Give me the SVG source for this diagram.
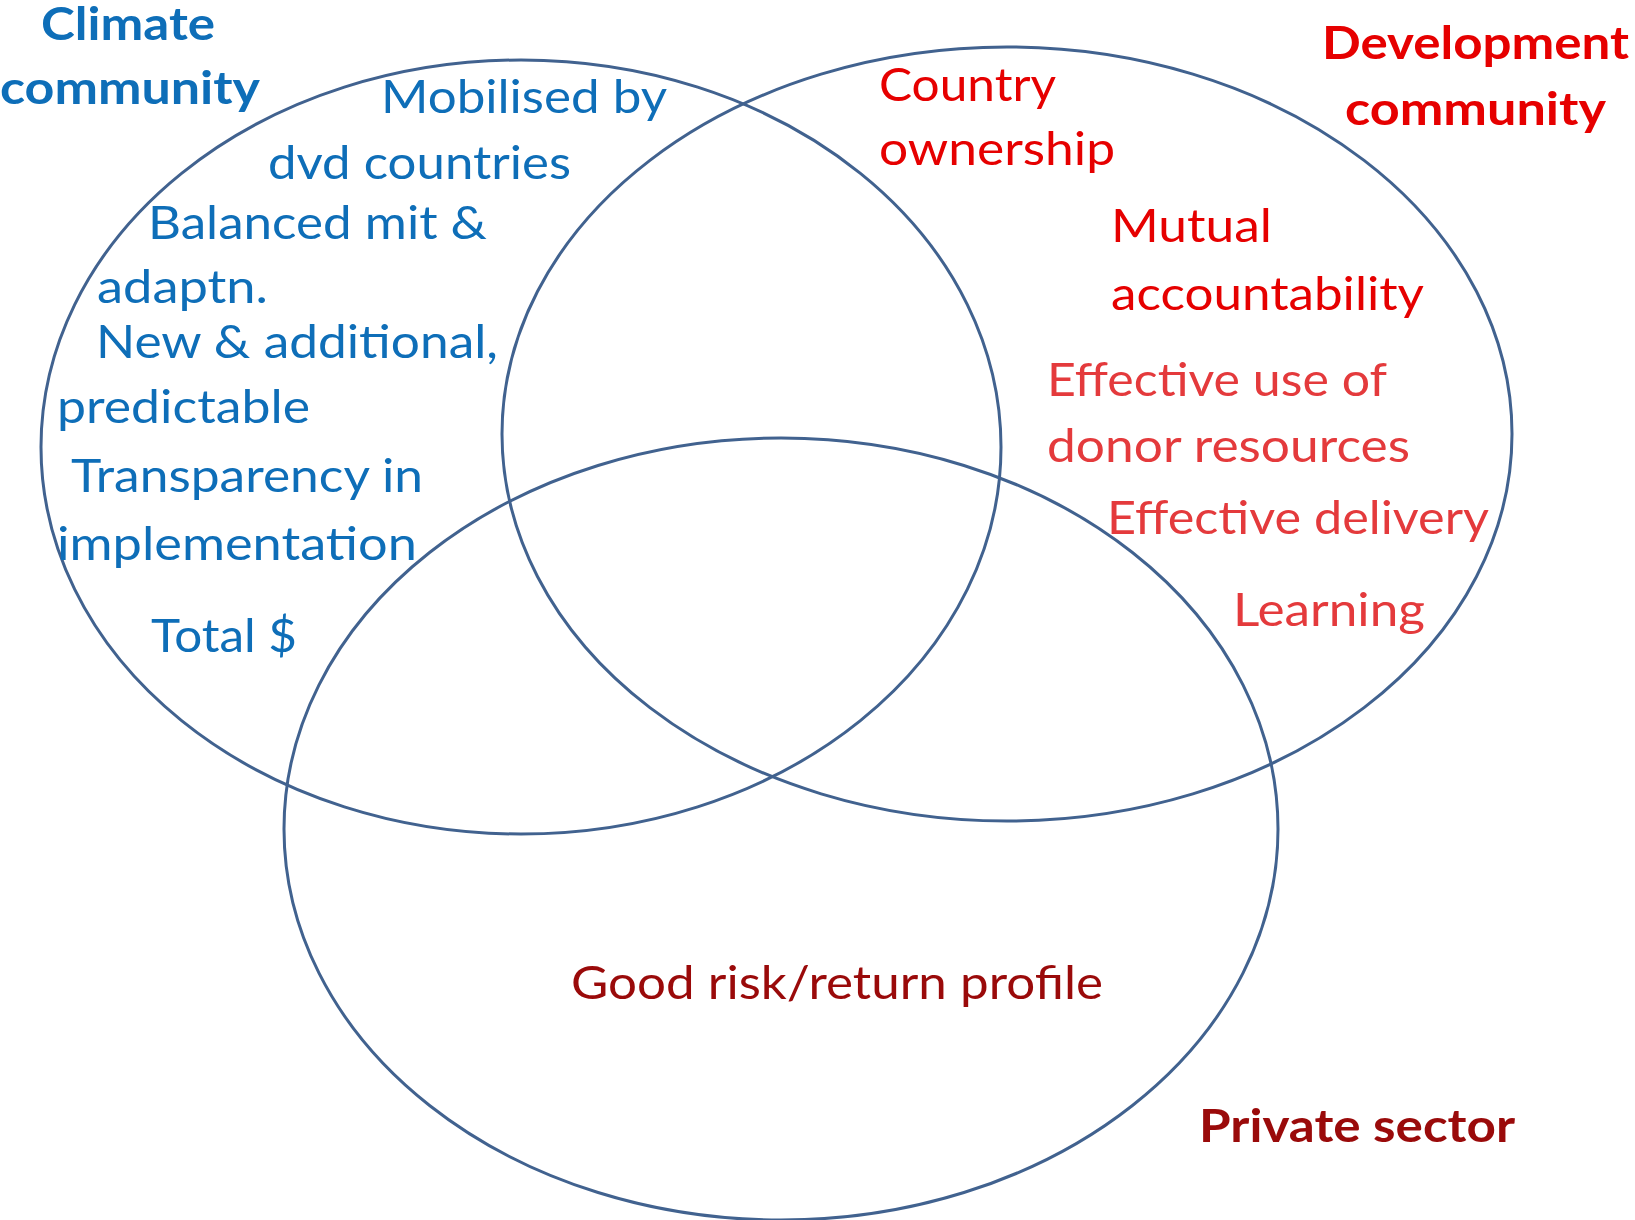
<svg xmlns="http://www.w3.org/2000/svg" width="1635" height="1220" viewBox="0 0 1635 1220">
<style>
.ring{fill:none;stroke:#41628F;stroke-width:3}
text{font-family:Lato,"Open Sans","Liberation Sans",sans-serif;font-size:47px}
.b{font-weight:bold;font-size:46px}
.blue{fill:#0E6EB8}
.red{fill:#E60000}
.red2{fill:#E43A3C}
.dred{fill:#9A0A0A}
</style>
<rect width="1635" height="1220" fill="#fff"/>
<g id="connectors"></g>
<g id="climate">
<ellipse class="ring" cx="521" cy="447" rx="480" ry="387"/>
<text class="b blue" x="128" y="40" text-anchor="middle" textLength="174" lengthAdjust="spacingAndGlyphs">Climate</text>
<text class="b blue" x="0" y="104" textLength="260" lengthAdjust="spacingAndGlyphs">community</text>
<text class="blue" x="381" y="113" textLength="286" lengthAdjust="spacingAndGlyphs">Mobilised by</text>
<text class="blue" x="268" y="179" textLength="303" lengthAdjust="spacingAndGlyphs">dvd countries</text>
<text class="blue" x="148" y="239" textLength="339" lengthAdjust="spacingAndGlyphs">Balanced mit &amp;</text>
<text class="blue" x="97" y="303" textLength="171" lengthAdjust="spacingAndGlyphs">adaptn.</text>
<text class="blue" x="96" y="358" textLength="402" lengthAdjust="spacingAndGlyphs">New &amp; additional,</text>
<text class="blue" x="57" y="423" textLength="253" lengthAdjust="spacingAndGlyphs">predictable</text>
<text class="blue" x="71" y="492" textLength="352" lengthAdjust="spacingAndGlyphs">Transparency in</text>
<text class="blue" x="57" y="560" textLength="360" lengthAdjust="spacingAndGlyphs">implementation</text>
<text class="blue" x="151" y="652" textLength="146" lengthAdjust="spacingAndGlyphs">Total $</text>
</g>
<g id="development">
<ellipse class="ring" cx="1007" cy="434" rx="505" ry="387"/>
<text class="b red" x="1322" y="59" textLength="307" lengthAdjust="spacingAndGlyphs">Development</text>
<text class="b red" x="1345" y="125" textLength="261" lengthAdjust="spacingAndGlyphs">community</text>
<text class="red" x="879" y="101" textLength="177" lengthAdjust="spacingAndGlyphs">Country</text>
<text class="red" x="879" y="165" textLength="236" lengthAdjust="spacingAndGlyphs">ownership</text>
<text class="red" x="1111" y="242" textLength="161" lengthAdjust="spacingAndGlyphs">Mutual</text>
<text class="red" x="1111" y="310" textLength="313" lengthAdjust="spacingAndGlyphs">accountability</text>
<text class="red2" x="1047" y="396" textLength="340" lengthAdjust="spacingAndGlyphs">Effective use of</text>
<text class="red2" x="1047" y="462" textLength="363" lengthAdjust="spacingAndGlyphs">donor resources</text>
<text class="red2" x="1107" y="534" textLength="382" lengthAdjust="spacingAndGlyphs">Effective delivery</text>
<text class="red2" x="1233" y="626" textLength="192" lengthAdjust="spacingAndGlyphs">Learning</text>
</g>
<g id="private">
<ellipse class="ring" cx="781" cy="829" rx="497" ry="391"/>
<text class="dred" x="571" y="999" textLength="532" lengthAdjust="spacingAndGlyphs">Good risk/return profile</text>
<text class="b dred" x="1199" y="1142" textLength="316" lengthAdjust="spacingAndGlyphs">Private sector</text>
</g>
</svg>
